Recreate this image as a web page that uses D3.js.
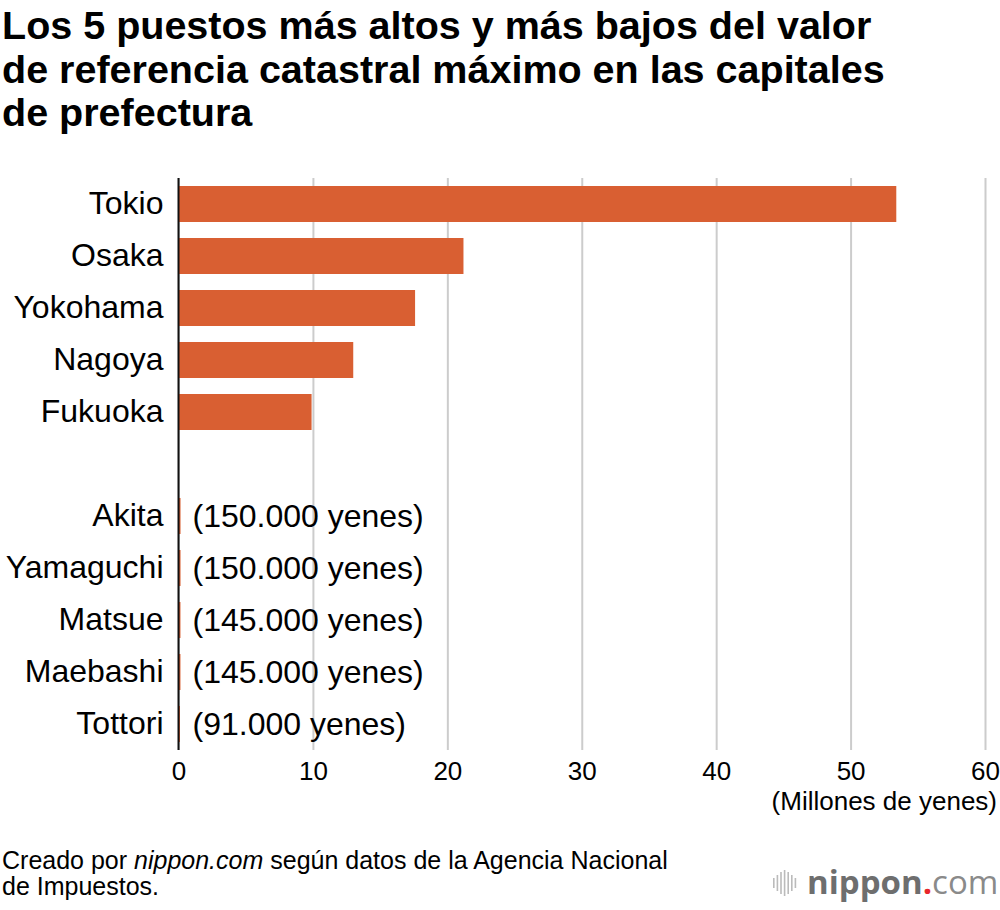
<!doctype html>
<html lang="es">

<head>
  <meta charset="UTF-8">
  <title>Valor de referencia catastral máximo</title>
  <style type="text/css">
    body { margin: 0; background: #fff; }
    svg { display: block; font-family: "Liberation Sans", Arial, Helvetica, sans-serif; }
  </style>
  <script src="https://cdnjs.cloudflare.com/ajax/libs/d3/7.8.5/d3.min.js"></script>
</head>

<body>
  <svg id="chart" width="1000" height="910"></svg>
  <script>
    // ciudades (el hueco vacío separa los 5 más altos de los 5 más bajos)
    let cities = ["Tokio", "Osaka", "Yokohama", "Nagoya", "Fukuoka", "",
      "Akita", "Yamaguchi", "Matsue", "Maebashi", "Tottori"]
    // millones de yenes por m2
    let values = [53.4, 21.2, 17.6, 13.0, 9.9, null,
      0.15, 0.15, 0.145, 0.145, 0.091]
    let valueNotes = ["", "", "", "", "", "",
      "(150.000 yenes)", "(150.000 yenes)", "(145.000 yenes)", "(145.000 yenes)", "(91.000 yenes)"]
    let xTicks = [0, 10, 20, 30, 40, 50, 60]

    let titleLines = ["Los 5 puestos más altos y más bajos del valor",
      "de referencia catastral máximo en las capitales",
      "de prefectura"]

    let svg = d3.select('#chart')
    let plotLeft = 178.5, plotRight = 985, plotTop = 178, plotBottom = 750

    let x = d3.scaleLinear().domain([0, 60]).range([plotLeft, plotRight])
    let y = d3.scaleBand().domain(d3.range(cities.length)).range([plotTop, plotBottom])
      .paddingInner(16 / 52).paddingOuter(8 / 52)

    // titulo
    svg.append('g').selectAll('text')
      .data(titleLines)
      .enter().append('text')
      .attr('x', 2)
      .attr('y', (d, i) => 39 + i * 43.5)
      .attr('font-size', 39.5)
      .attr('font-weight', 'bold')
      .attr('fill', '#000')
      .text(d => d)

    // rejilla
    svg.append('g')
      .attr('transform', `translate(0,${plotBottom})`)
      .call(d3.axisBottom(x).tickValues(xTicks).tickSize(-(plotBottom - plotTop)).tickFormat(''))
      .call(g => g.select('.domain').remove())
      .call(g => g.selectAll('.tick line').attr('stroke', '#cccccc').attr('stroke-width', 2))

    // etiquetas del eje x
    svg.append('g')
      .attr('transform', `translate(0,${plotBottom})`)
      .call(d3.axisBottom(x).tickValues(xTicks).tickSize(0).tickPadding(12))
      .call(g => g.select('.domain').remove())
      .call(g => g.selectAll('text').attr('font-size', 26).attr('fill', '#000')
        .attr('font-family', '"Liberation Sans", Arial, sans-serif'))

    svg.append('text')
      .attr('x', 997)
      .attr('y', 810)
      .attr('text-anchor', 'end')
      .attr('font-size', 26)
      .text('(Millones de yenes)')

    // barras
    svg.append('g').selectAll('rect')
      .data(values.map((v, i) => ({ v: v, i: i })).filter(d => d.v !== null))
      .enter().append('rect')
      .attr('x', x(0))
      .attr('y', d => y(d.i))
      .attr('width', d => Math.max(x(d.v) - x(0), 1.5))
      .attr('height', y.bandwidth())
      .attr('fill', '#d95f32')

    // eje y
    svg.append('g')
      .attr('transform', `translate(${x(0)},0)`)
      .call(d3.axisLeft(y).tickSize(0).tickPadding(15).tickFormat(i => cities[i]))
      .call(g => g.select('.domain').attr('stroke', '#111').attr('stroke-width', 2)
        .attr('d', `M0,${plotTop}V${plotBottom}`))
      .call(g => g.selectAll('text').attr('font-size', 32).attr('fill', '#000')
        .attr('font-family', '"Liberation Sans", Arial, sans-serif'))

    // notas de valor para las barras pequeñas
    svg.append('g').selectAll('text')
      .data(valueNotes.map((t, i) => ({ t: t, i: i })).filter(d => d.t))
      .enter().append('text')
      .attr('x', x(0) + 14)
      .attr('y', d => y(d.i) + y.bandwidth() / 2)
      .attr('dy', '0.35em')
      .attr('font-size', 32)
      .text(d => d.t)

    // fuente
    let src = svg.append('text').attr('x', 2).attr('y', 869).attr('font-size', 25)
    src.append('tspan').text('Creado por ')
    src.append('tspan').attr('font-style', 'italic').text('nippon.com')
    src.append('tspan').text(' según datos de la Agencia Nacional')
    svg.append('text').attr('x', 2).attr('y', 895).attr('font-size', 25).text('de Impuestos.')

    // logo
    let logo = svg.append('g').attr('transform', 'translate(773,885)')
    let waves = [10, 16, 22, 26, 22, 16, 10]
    logo.selectAll('rect')
      .data(waves)
      .enter().append('rect')
      .attr('x', (d, i) => i * 3.6)
      .attr('y', d => -d / 2 - 2)
      .attr('width', 1.6)
      .attr('height', d => d)
      .attr('fill', '#bbbbbb')
    let lt = logo.append('text').attr('x', 34).attr('y', 9)
      .attr('font-family', '"Open Sans", "DejaVu Sans", sans-serif').attr('font-size', 33)
    lt.append('tspan').attr('fill', '#6e6e6e').attr('font-weight', 'bold').text('nippon')
    lt.append('tspan').attr('fill', '#e8262a').attr('font-weight', 'bold').text('.')
    lt.append('tspan').attr('fill', '#8a8a8a').attr('font-weight', 'normal').text('com')
  </script>
</body>

</html>
